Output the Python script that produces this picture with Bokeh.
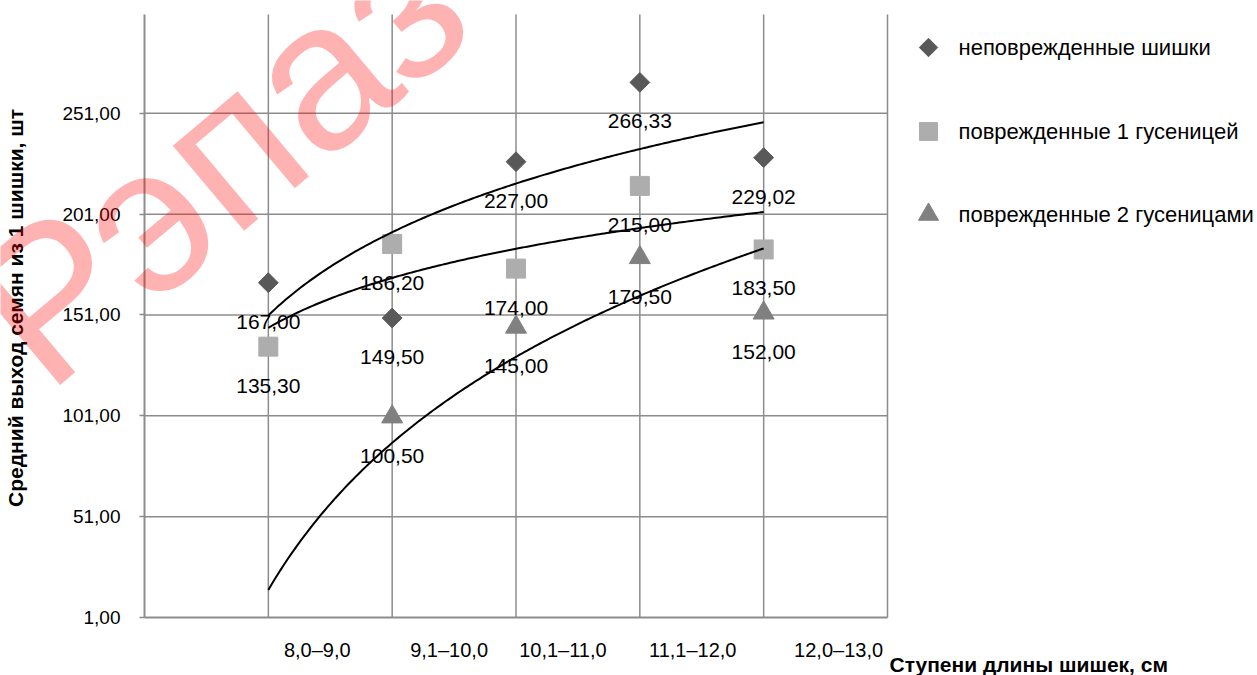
import numpy as np
from bokeh.plotting import figure
from bokeh.models import (ColumnDataSource, LabelSet, Label, FixedTicker, Range1d)
from bokeh.embed import file_html
from bokeh.resources import INLINE
from bokeh.core.properties import value

# ---------------- data ----------------
categories = ["8,0–9,0", "9,1–10,0", "10,1–11,0", "11,1–12,0", "12,0–13,0"]
undamaged = [167.00, 149.50, 227.00, 266.33, 229.02]
damaged_1 = [135.30, 186.20, 174.00, 215.00, 183.50]
damaged_2 = [0.00, 100.50, 145.00, 179.50, 152.00]
series_names = ["неповрежденные шишки", "поврежденные 1 гусеницей",
                "поврежденные 2 гусеницами"]
y_ticks = [1, 51, 101, 151, 201, 251]
x_title = "Ступени длины шишек, см"
y_title = "Средний выход семян из 1 шишки, шт"
watermark = "Рэпаз"

# ---------------- style ----------------
FONT = "Liberation Sans"
W, H = 1257, 675
FL, FR, FT, FB = 144, 887, 14, 617          # plot-area edges in px
X0, X1, Y0, Y1 = 0, 6, 1, 300
GRID = "#8c8c8c"
colors = ["#595959", "#adadad", "#808080"]
px_per_x = (FR - FL) / (X1 - X0)
px_per_y = (FB - FT) / (Y1 - Y0)


def px2x(px):
    return X0 + (px - FL) / px_per_x


def py2y(py):
    return Y0 + (FB - py) / px_per_y


def fmt(v):
    return f"{v:.2f}".replace(".", ",")


p = figure(width=W, height=H, output_backend="svg", toolbar_location=None,
           x_range=Range1d(px2x(0), px2x(W)), y_range=Range1d(py2y(H), py2y(0)),
           min_border=0)
p.outline_line_color = None
p.xgrid.visible = False
p.ygrid.visible = False

# grid lines of the plot area
xs_cat = list(range(1, len(categories) + 1))
xs_grid = xs_cat + [len(categories) + 1]
p.segment(x0=xs_grid, y0=[Y0] * len(xs_grid), x1=xs_grid, y1=[Y1] * len(xs_grid),
          line_color=GRID, line_width=1.5)
hy = y_ticks[1:]
p.segment(x0=[X0] * len(hy), y0=hy, x1=[X1] * len(hy), y1=hy,
          line_color=GRID, line_width=1.5)

# x axis: category names sit between the grid lines
cat_dx = [-13, -5, -15, -9, 13]            # px nudges of each name
cat_pos = [x + 0.5 + d / px_per_x for x, d in zip(xs_cat, cat_dx)]
xa = p.xaxis[0]
xa.fixed_location = Y0
xa.bounds = (X0, X1)
xa.ticker = FixedTicker(ticks=cat_pos)
xa.major_label_overrides = {t: c for t, c in zip(cat_pos, categories)}
xa.axis_line_color = GRID
xa.axis_line_width = 2
xa.major_tick_line_color = None
xa.major_tick_in = 0
xa.major_tick_out = 0
xa.minor_tick_line_color = None
xa.major_label_standoff = 21
xa.major_label_text_font = FONT
xa.major_label_text_font_size = "20px"
xa.major_label_text_color = "black"

# y axis
ya = p.yaxis[0]
ya.fixed_location = X0
ya.bounds = (Y0, Y1)
ya.ticker = FixedTicker(ticks=y_ticks)
ya.major_label_overrides = {t: fmt(t) for t in y_ticks}
ya.axis_line_color = GRID
ya.axis_line_width = 2
ya.major_tick_line_color = GRID
ya.major_tick_line_width = 1.5
ya.major_tick_in = 0
ya.major_tick_out = 5
ya.minor_tick_line_color = None
ya.major_label_standoff = 19
ya.major_label_text_font = FONT
ya.major_label_text_font_size = "19px"
ya.major_label_text_color = "black"

# axis titles
p.text(x=[px2x(15)], y=[(Y0 + Y1) / 2 + 4], text=[y_title], angle=np.pi / 2,
       text_font=value(FONT), text_font_style="bold", text_font_size="21px",
       text_align="center", text_baseline="middle", text_color="black")
p.text(x=[px2x(889)], y=[py2y(664)], text=[x_title], text_font=value(FONT),
       text_font_style="bold", text_font_size="21px", text_align="left",
       text_baseline="middle", text_color="black")

# markers + value labels
series = [undamaged, damaged_1, damaged_2]
markers = [dict(marker="square", angle=np.pi / 4, size=14),
           dict(marker="square", angle=0, size=19),
           dict(marker="triangle", angle=0, size=21)]
for vals, col, mk in zip(series, colors, markers):
    xs = [x for x, v in zip(xs_cat, vals) if v >= Y0]
    ys = [v for v in vals if v >= Y0]
    src = ColumnDataSource(dict(x=xs, y=ys, t=[fmt(v) for v in ys]))
    p.scatter("x", "y", source=src, marker=mk["marker"], angle=mk["angle"],
              size=mk["size"], fill_color=col, line_color=col)
    p.add_layout(LabelSet(x="x", y="y", text="t", source=src, y_offset=-39,
                          text_align="center", text_baseline="middle",
                          text_font=value(FONT), text_font_size="21px",
                          text_color="black"))

# logarithmic trend lines (least-squares fit, as in the original chart)
xfit = np.linspace(1, len(categories), 200)
for vals in series:
    b, a = np.polyfit(np.log(xs_cat), vals, 1)
    r = p.line(xfit, a + b * np.log(xfit), line_color="black", line_width=2)
    r.level = "overlay"

# legend
leg_y = [47, 131, 214]
leg_x = 928
leg_mk = [dict(marker="square", angle=np.pi / 4, size=13),
          dict(marker="square", angle=0, size=18),
          dict(marker="triangle", angle=0, size=20)]
for yy, col, mk in zip(leg_y, colors, leg_mk):
    p.scatter([px2x(leg_x)], [py2y(yy)], marker=mk["marker"], angle=mk["angle"],
              size=mk["size"], fill_color=col, line_color=col)
p.text(x=[px2x(958)] * 3, y=[py2y(v) for v in leg_y], text=series_names,
       text_font=value(FONT), text_font_size="22px", text_align="left",
       text_baseline="middle", text_color="black")

# watermark
wm = Label(x=px2x(0), y=py2y(340), text=watermark, angle=np.deg2rad(40),
           text_font=FONT, text_font_size="210px",
           text_color="red", text_alpha=0.3, text_align="left",
           text_baseline="alphabetic")
wm.level = "overlay"
p.add_layout(wm)

open("out.html", "w").write(file_html(p, INLINE))
